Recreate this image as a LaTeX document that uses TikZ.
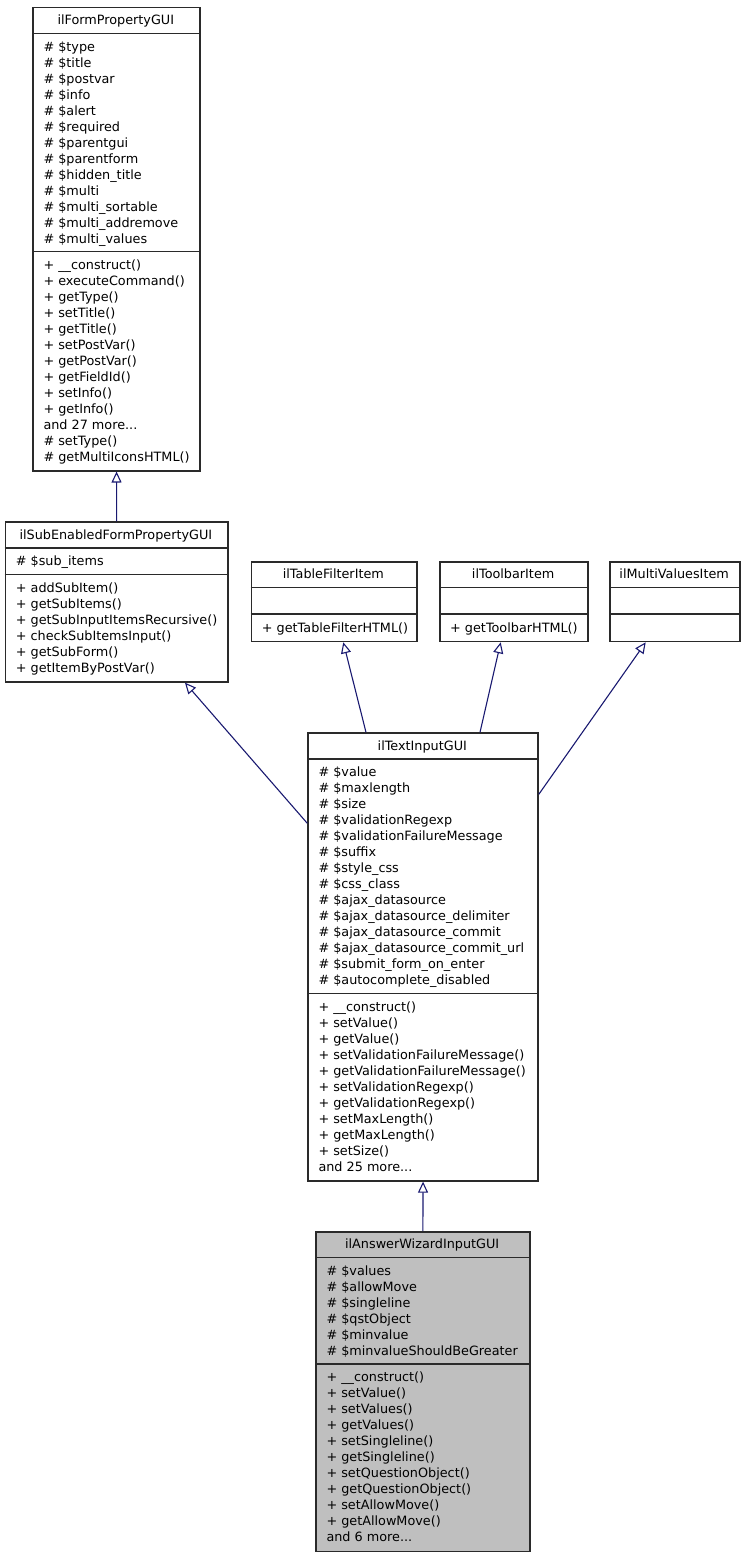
\documentclass[tikz,border=0pt]{standalone}
\usepackage{fontspec}
\setmainfont{DejaVu Sans}
\usetikzlibrary{arrows.meta}
\definecolor{edgeblue}{HTML}{191970}
\definecolor{boxline}{HTML}{2A2A2A}
\definecolor{boxfill}{HTML}{BFBFBF}
\tikzset{
  classbox/.style={draw=boxline, line width=1.5pt, inner sep=0pt, anchor=north west},
  sepline/.style={draw=boxline, line width=1.5pt},
  txt/.style={inner sep=0pt, anchor=base west, font=\fontsize{12.8}{16}\selectfont},
  ttl/.style={inner sep=0pt, anchor=base, font=\fontsize{12.8}{16}\selectfont},
  inh/.style={draw=edgeblue, line width=1.1pt, -{Triangle[open, length=11pt, width=10pt]}},
}
\newcommand\tdots{...}
\newcommand\boxlines[4]{\foreach \t [count=\i from 0] in {#4} {\node[txt] (#1\i) at (#2, {#3+4.6+16*\i}) {\t};}}
\begin{document}
\begin{tikzpicture}[x=1pt, y=-1pt]
\useasboundingbox (0,0) rectangle (744,1557);

% ilFormPropertyGUI
\node[classbox, minimum width=167pt, minimum height=463.3pt] (fpg) at (32.3,6.7) {};
\draw[sepline] (32.3,33.3) -- (199.3,33.3);
\draw[sepline] (32.3,251.7) -- (199.3,251.7);
\node[ttl] (fpgt) at (115.8,24.6) {ilFormPropertyGUI};
\boxlines{fpga}{43.3}{46.6}{{\# \$type},{\# \$title},{\# \$postvar},{\# \$info},{\# \$alert},{\# \$required},{\# \$parentgui},{\# \$parentform},{\# \$hidden\_title},{\# \$multi},{\# \$multi\_sortable},{\# \$multi\_addremove},{\# \$multi\_values}}
\boxlines{fpgm}{43.3}{265}{{+ \_\_construct()},{+ executeCommand()},{+ getType()},{+ setTitle()},{+ getTitle()},{+ setPostVar()},{+ getPostVar()},{+ getFieldId()},{+ setInfo()},{+ getInfo()},{and 27 more\tdots},{\# setType()},{\# getMultiIconsHTML()}}

% ilSubEnabledFormPropertyGUI
\node[classbox, minimum width=222.3pt, minimum height=159.9pt] (sub) at (4.7,521.3) {};
\draw[sepline] (4.7,548) -- (227,548);
\draw[sepline] (4.7,574.6) -- (227,574.6);
\node[ttl] (subt) at (115.85,539.2) {ilSubEnabledFormPropertyGUI};
\boxlines{suba}{15.7}{561.3}{{\# \$sub\_items}}
\boxlines{subm}{15.7}{587.9}{{+ addSubItem()},{+ getSubItems()},{+ getSubInputItemsRecursive()},{+ checkSubItemsInput()},{+ getSubForm()},{+ getItemByPostVar()}}

% ilTableFilterItem
\node[classbox, minimum width=165.3pt, minimum height=79.8pt] (tfi) at (250.7,561) {};
\draw[sepline] (250.7,587.6) -- (416,587.6);
\draw[sepline] (250.7,614.2) -- (416,614.2);
\node[ttl] (tfit) at (333.35,578.9) {ilTableFilterItem};
\boxlines{tfim}{261.7}{627.5}{{+ getTableFilterHTML()}}

% ilToolbarItem
\node[classbox, minimum width=148.3pt, minimum height=79.8pt] (tbi) at (439,561) {};
\draw[sepline] (439,587.6) -- (587.3,587.6);
\draw[sepline] (439,614.2) -- (587.3,614.2);
\node[ttl] (tbit) at (513.15,578.9) {ilToolbarItem};
\boxlines{tbim}{450}{627.5}{{+ getToolbarHTML()}}

% ilMultiValuesItem
\node[classbox, minimum width=129.7pt, minimum height=79.8pt] (mvi) at (609.3,561) {};
\draw[sepline] (609.3,587.6) -- (739,587.6);
\draw[sepline] (609.3,614.2) -- (739,614.2);
\node[ttl] (mvit) at (674.15,578.9) {ilMultiValuesItem};

% ilTextInputGUI
\node[classbox, minimum width=230pt, minimum height=447.8pt] (ti) at (307.3,732.3) {};
\draw[sepline] (307.3,758.9) -- (537.3,758.9);
\draw[sepline] (307.3,993.5) -- (537.3,993.5);
\node[ttl] (tit) at (422.3,750.2) {ilTextInputGUI};
\boxlines{tia}{318.3}{772.2}{{\# \$value},{\# \$maxlength},{\# \$size},{\# \$validationRegexp},{\# \$validationFailureMessage},{\# \$suffix},{\# \$style\_css},{\# \$css\_class},{\# \$ajax\_datasource},{\# \$ajax\_datasource\_delimiter},{\# \$ajax\_datasource\_commit},{\# \$ajax\_datasource\_commit\_url},{\# \$submit\_form\_on\_enter},{\# \$autocomplete\_disabled}}
\boxlines{tim}{318.3}{1006.8}{{+ \_\_construct()},{+ setValue()},{+ getValue()},{+ setValidationFailureMessage()},{+ getValidationFailureMessage()},{+ setValidationRegexp()},{+ getValidationRegexp()},{+ setMaxLength()},{+ getMaxLength()},{+ setSize()},{and 25 more\tdots}}

% ilAnswerWizardInputGUI
\node[classbox, fill=boxfill, minimum width=213.7pt, minimum height=319.5pt] (awi) at (315.3,1231) {};
\draw[sepline] (315.3,1257.6) -- (529,1257.6);
\draw[sepline] (315.3,1364) -- (529,1364);
\node[ttl] (awit) at (422.15,1248.9) {ilAnswerWizardInputGUI};
\boxlines{awia}{326.3}{1270.9}{{\# \$values},{\# \$allowMove},{\# \$singleline},{\# \$qstObject},{\# \$minvalue},{\# \$minvalueShouldBeGreater}}
\boxlines{awim}{326.3}{1377.3}{{+ \_\_construct()},{+ setValue()},{+ setValues()},{+ getValues()},{+ setSingleline()},{+ getSingleline()},{+ setQuestionObject()},{+ getQuestionObject()},{+ setAllowMove()},{+ getAllowMove()},{and 6 more\tdots}}

% inheritance edges
\draw[inh] (sub.north) -- (fpg.south);
\draw[inh] ([yshift=-91pt]ti.north west) -- ([xshift=180.3pt]sub.south west);
\draw[inh] ([xshift=58.7pt]ti.north west) -- ([xshift=92.6pt]tfi.south west);
\draw[inh] ([xshift=172.7pt]ti.north west) -- ([xshift=61.7pt]tbi.south west);
\draw[inh] ([yshift=-62pt]ti.north east) -- ([xshift=36.4pt]mvi.south west);
\draw[inh] (awi.north) -- (ti.south);
\end{tikzpicture}
\end{document}
